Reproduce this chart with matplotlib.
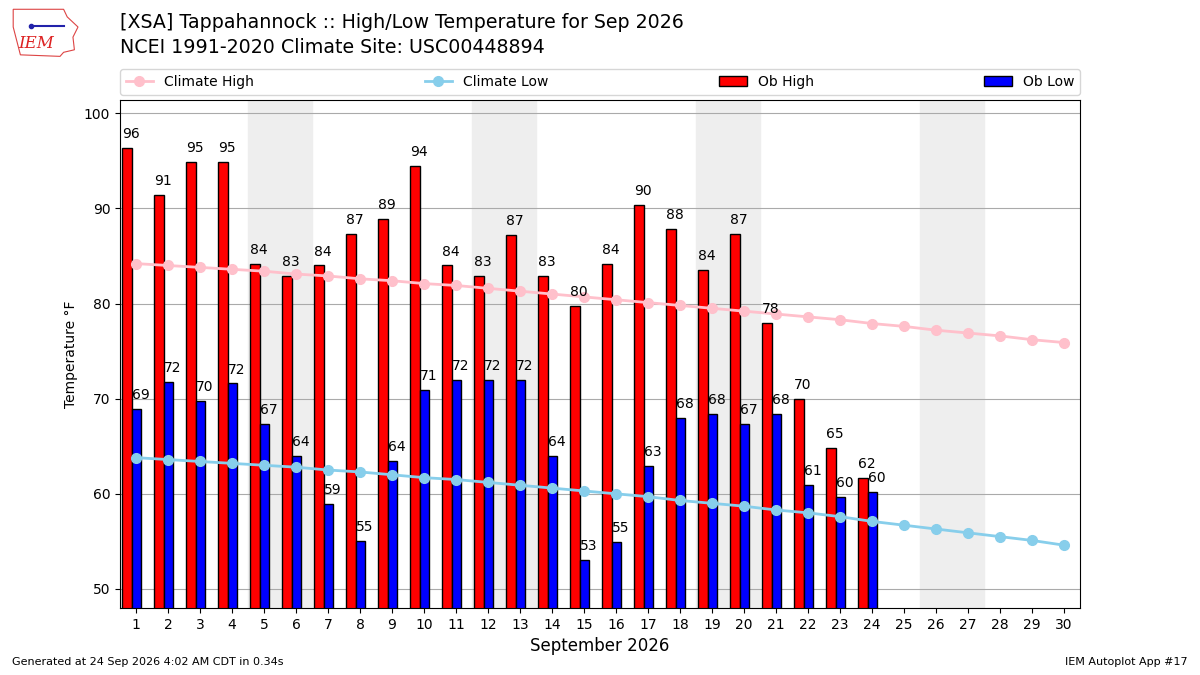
import numpy as np
import matplotlib.pyplot as plt
from matplotlib.patches import Polygon

# data
days = list(range(1, 31))
ob_high = [96.4, 91.4, 94.9, 94.9, 84.2, 82.9, 84.0, 87.3, 88.9, 94.5,
           84.0, 82.9, 87.2, 82.9, 79.7, 84.2, 90.4, 87.8, 83.5, 87.3,
           78.0, 70.0, 64.8, 61.7]
ob_low = [68.9, 71.8, 69.8, 71.6, 67.3, 64.0, 58.9, 55.0, 63.5, 70.9,
          72.0, 72.0, 72.0, 64.0, 53.0, 54.9, 62.9, 68.0, 68.4, 67.3,
          68.4, 60.9, 59.7, 60.2]
clim_high = [84.2, 84.0, 83.8, 83.6, 83.4, 83.1, 82.9, 82.6, 82.4, 82.1,
             81.9, 81.6, 81.3, 81.0, 80.7, 80.4, 80.1, 79.8, 79.5, 79.2,
             78.9, 78.6, 78.3, 77.9, 77.6, 77.2, 76.9, 76.6, 76.2, 75.9]
clim_low = [63.8, 63.6, 63.4, 63.2, 63.0, 62.8, 62.5, 62.3, 62.0, 61.7,
            61.5, 61.2, 60.9, 60.6, 60.3, 60.0, 59.7, 59.3, 59.0, 58.7,
            58.3, 58.0, 57.6, 57.1, 56.7, 56.3, 55.9, 55.5, 55.1, 54.6]
weekends = [5, 12, 19, 26]

fig = plt.figure(figsize=(12, 6.75), dpi=100)
ax = fig.add_axes([0.1, 0.0993, 0.8, 0.7526])

for w in weekends:
    ax.axvspan(w - 0.5, w + 1.5, color='#eeeeee', zorder=0)

ax.grid(axis='y', color='#aaaaaa', zorder=1)
ax.set_axisbelow(True)

n = len(ob_high)
x = np.array(days[:n])
w = 0.3
hb = ax.bar(x - 0.29, ob_high, width=w, color='red', edgecolor='k', label='Ob High', zorder=2)
lb = ax.bar(x + 0.015, ob_low, width=w, color='blue', edgecolor='k', label='Ob Low', zorder=2)

for rect, v in zip(hb, ob_high):
    ax.annotate(f"{v:.0f}", (rect.get_x(), v), xytext=(0, 5), textcoords='offset points',
                ha='left', va='bottom', fontsize=10, zorder=4)
for rect, v in zip(lb, ob_low):
    ax.annotate(f"{v:.0f}", (rect.get_x(), v), xytext=(0, 5), textcoords='offset points',
                ha='left', va='bottom', fontsize=10, zorder=4)

ch, = ax.plot(days, clim_high, marker='o', color='pink', lw=2, ms=7, label='Climate High', zorder=3)
cl, = ax.plot(days, clim_low, marker='o', color='skyblue', lw=2, ms=7, label='Climate Low', zorder=3)

ax.set_xlim(0.5, 30.5)
ax.set_ylim(48, 101.4)
ax.set_xticks(days)
ax.tick_params(labelsize=10)
ax.set_ylabel('Temperature °F', fontsize=10)
ax.set_xlabel('September 2026', fontsize=12)

fig.legend([ch, cl, hb, lb], ['Climate High', 'Climate Low', 'Ob High', 'Ob Low'],
           loc='lower left', bbox_to_anchor=(0.1, 0.86, 0.8, 0.04), mode='expand',
           ncol=4, fontsize=10, borderaxespad=0)

fig.text(0.1, 0.966, '[XSA] Tappahannock :: High/Low Temperature for Sep 2026',
         fontsize=13.7, va='center')
fig.text(0.1, 0.930, 'NCEI 1991-2020 Climate Site: USC00448894',
         fontsize=13.7, va='center')

# rough IEM logo
lax = fig.add_axes([0.008, 0.915, 0.06, 0.075])
lax.axis('off')
lax.set_xlim(0, 1)
lax.set_ylim(0, 1)
outline = [(0.05, 0.95), (0.75, 0.95), (0.8, 0.8), (0.95, 0.6), (0.88, 0.4),
           (0.9, 0.15), (0.75, 0.1), (0.7, 0.02), (0.15, 0.05), (0.05, 0.6)]
lax.add_patch(Polygon(outline, closed=True, fill=False, edgecolor='#dd4444', lw=0.8))
lax.plot([0.3, 0.75], [0.62, 0.62], color='#2222aa', lw=1.5)
lax.plot([0.3], [0.62], 'o', color='#2222aa', ms=3)
lax.text(0.12, 0.18, 'IEM', color='#dd2222', fontsize=12, family='serif', style='italic')

fig.text(0.01, 0.015, 'Generated at 24 Sep 2026 4:02 AM CDT in 0.34s', fontsize=8)
fig.text(0.99, 0.015, 'IEM Autoplot App #17', fontsize=8, ha='right')

fig.savefig('out.png', dpi=100)
